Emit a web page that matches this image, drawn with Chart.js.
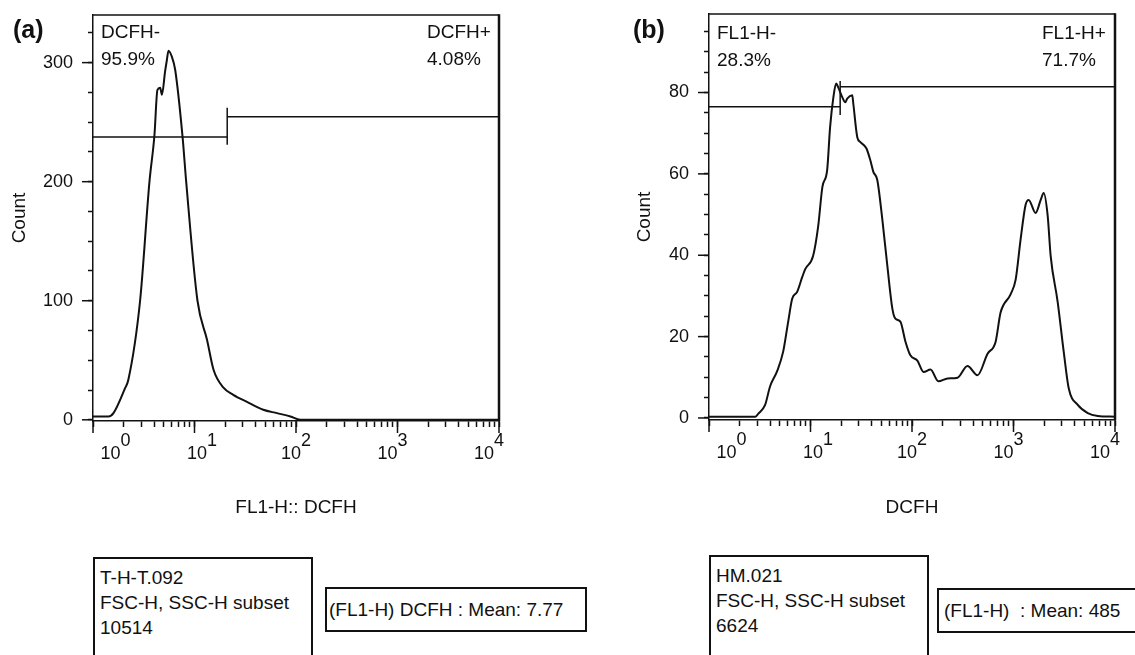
<!DOCTYPE html>
<html><head><meta charset="utf-8">
<script src="https://cdn.jsdelivr.net/npm/chart.js@4/dist/chart.umd.min.js"></script>
<style>
html,body{margin:0;padding:0;background:#fff;}
#wrap{position:relative;width:1135px;height:655px;overflow:hidden;font-family:"Liberation Sans",Arial,sans-serif;color:#111;background:#fff;}
canvas{position:absolute;top:0;}
.t{position:absolute;font-size:19px;line-height:27px;white-space:pre;}
.lab{position:absolute;font-weight:bold;font-size:25px;line-height:25px;color:#111;}
.box{position:absolute;border:2px solid #111;box-sizing:border-box;font-size:19px;white-space:pre;background:#fff;}
</style></head>
<body><div id="wrap">
<canvas id="ca" width="567" height="655" style="left:0"></canvas>
<canvas id="cb" width="568" height="655" style="left:567px"></canvas>
<div class="lab" style="left:13px;top:17px">(a)</div>
<div class="lab" style="left:633px;top:17px">(b)</div>
<div class="t" style="left:101px;top:18px">DCFH-
95.9%</div>
<div class="t" style="left:427px;top:18px">DCFH+
4.08%</div>
<div class="t" style="left:717px;top:19px">FL1-H-
28.3%</div>
<div class="t" style="left:1042px;top:19px">FL1-H+
71.7%</div>
<div class="box" style="left:93px;top:557px;width:220px;height:120px;padding:6px 0 0 5px;line-height:25px">T-H-T.092
FSC-H, SSC-H subset
10514</div>
<div class="box" style="left:325px;top:587px;width:262px;height:45px;padding-left:2px;line-height:41px">(FL1-H) DCFH : Mean: 7.77</div>
<div class="box" style="left:709px;top:555px;width:220px;height:120px;padding:6px 0 0 5px;line-height:25px">HM.021
FSC-H, SSC-H subset
6624</div>
<div class="box" style="left:937px;top:588px;width:220px;height:45px;padding-left:5px;line-height:41px">(FL1-H)  : Mean: 485</div>
</div>
<script>
// ---------- data ----------
const aIntensity = [1, 1.42, 1.59, 2.07, 2.23, 2.91, 3.60, 4.03, 4.31, 4.59, 4.77, 5.14, 5.34, 5.54, 5.98, 6.45, 7.62, 8.28, 10.7, 13.3, 15.4, 19.3, 24.1, 32.9, 47.6, 65.0, 88.1, 110, 10000];
const aCount = [2.8, 2.8, 5.6, 26.6, 33.6, 100, 200, 239, 277, 279, 273, 293, 302, 310, 305, 294, 238, 200, 100, 67, 42, 27, 21, 15, 8.4, 5.6, 2.8, 0, 0];

const bIntensity = [1, 2.85, 3.05, 3.57, 4.00, 4.69, 5.38, 6.03, 6.60, 7.39, 8.28, 8.87, 10.6, 11.9, 13.1, 14.6, 15.6, 16.8, 17.9, 18.8, 20.6, 22.0, 23.0, 25.8, 26.4, 28.9, 31.0, 35.5, 38.8, 41.6, 45.5, 51.0, 57.2, 64.1, 68.6, 76.8, 86.1, 96.4, 113, 130, 152, 182, 224, 281, 352, 442, 555, 666, 746, 936, 1050, 1175, 1316, 1410, 1652, 1853, 1983, 2172, 2324, 2725, 3124, 3500, 4295, 5395, 6761, 10000];
const bCount = [0.3, 0.3, 1, 3.2, 7.8, 11.5, 16.3, 23.7, 29.3, 31, 34.6, 36.6, 39.8, 47.1, 56.8, 61, 71.5, 78.8, 82.2, 81.2, 78.8, 77.6, 78.5, 79.3, 77.3, 69, 67.8, 66.3, 63.4, 60.5, 58.5, 48.8, 37.3, 26.8, 24.4, 23.7, 18.8, 15.4, 14.1, 11.3, 11.9, 9, 9.7, 9.9, 12.8, 10.5, 15.8, 18.7, 25.9, 30.4, 34, 43.9, 52.4, 53.6, 50.4, 53.6, 55.3, 49.7, 39.8, 28.5, 16.3, 7.3, 3.2, 1.2, 0.5, 0.3];

// gates: [start, split, end] on x; [left level, right level]; marker bar [low, high]
const aGateX = [1, 21, 10000];
const aGateY = [237.6, 254.5];
const aGateBar = [231, 262];
const bGateX = [1, 19.6, 10000];
const bGateY = [76.5, 81.4];
const bGateBar = [74.5, 82.8];

// ticks
const xDecades = [1, 10, 100, 1000, 10000];
const xExponents = ['0', '1', '2', '3', '4'];
const xMinorSteps = [2, 3, 4, 5, 6, 7, 8, 9];
const aYTicks = [0, 25, 50, 75, 100, 125, 150, 175, 200, 225, 250, 275, 300, 325];
const aYLabels = [0, 100, 200, 300];
const bYTicks = [0, 5, 10, 15, 20, 25, 30, 35, 40, 45, 50, 55, 60, 65, 70, 75, 80, 85, 90, 95];
const bYLabels = [0, 20, 40, 60, 80];

const aTitles = {x: 'FL1-H:: DCFH', y: 'Count'};
const bTitles = {x: 'DCFH', y: 'Count'};

// ---------- helpers ----------
const xTickValues = [];
xDecades.forEach((d, i) => {
  xTickValues.push(d);
  if (i < xDecades.length - 1) xMinorSteps.forEach(m => xTickValues.push(d * m));
});
// label shift (in space widths) for base "10" and superscript line
const xLabelShift = [[7, 13], [1, 7], [-2, 4], [-4, 2], [-6, 0]];
function pad(txt, n) { return n > 0 ? ' '.repeat(n) + txt : txt + ' '.repeat(-n); }
function xLabel(v) {
  const k = xDecades.indexOf(v);
  if (k < 0) return '';
  const [s10, sSup] = xLabelShift[k];
  return [pad(xExponents[k], sSup), pad('10', s10)];
}
function noPad(s) { s.paddingLeft = 0; s.paddingRight = 0; s.paddingTop = 0; s.paddingBottom = 0; }
const INK = '#111';
const FONT = '"Liberation Sans", Arial, sans-serif';

const framePlugin = {
  id: 'frame',
  afterDraw(chart, args, opts) {
    const {ctx, chartArea: {left, top, right, bottom}, scales: {x, y}} = chart;
    ctx.save();
    ctx.strokeStyle = INK;
    ctx.lineWidth = 1.5;
    ctx.beginPath(); ctx.moveTo(left, top); ctx.lineTo(right, top); ctx.stroke();
    ctx.lineWidth = 2.5;
    ctx.beginPath(); ctx.moveTo(right, top - 0.75); ctx.lineTo(right, bottom); ctx.stroke();
    ctx.lineWidth = 1.5;
    x.ticks.forEach(t => {
      if (xDecades.includes(t.value)) {
        const px = x.getPixelForValue(t.value);
        ctx.beginPath(); ctx.moveTo(px, bottom); ctx.lineTo(px, bottom + 12); ctx.stroke();
      }
    });
    y.ticks.forEach(t => {
      if (opts.yLabels.includes(t.value)) {
        const py = y.getPixelForValue(t.value);
        ctx.beginPath(); ctx.moveTo(left - 11, py); ctx.lineTo(left, py); ctx.stroke();
      }
    });
    ctx.restore();
  }
};

function makeChart(id, cfg) {
  const pts = cfg.xs.map((v, i) => ({x: v, y: cfg.ys[i]}));
  const gl = cfg.gateX, gy = cfg.gateY, gb = cfg.gateBar;
  const gateStyle = {borderColor: INK, borderWidth: 1.5, pointRadius: 0, fill: false, tension: 0};
  return new Chart(document.getElementById(id), {
    type: 'line',
    data: {
      datasets: [
        {data: pts, borderColor: INK, borderWidth: 2, pointRadius: 0, fill: false, cubicInterpolationMode: 'monotone'},
        Object.assign({data: [{x: gl[0], y: gy[0]}, {x: gl[1], y: gy[0]}]}, gateStyle),
        Object.assign({data: [{x: gl[1], y: gy[1]}, {x: gl[2], y: gy[1]}]}, gateStyle),
        Object.assign({data: [{x: gl[1], y: gb[0]}, {x: gl[1], y: gb[1]}]}, gateStyle)
      ]
    },
    options: {
      responsive: false,
      animation: false,
      events: [],
      layout: {padding: {left: 0, top: cfg.padTop, right: cfg.padRight, bottom: 0}},
      plugins: {legend: {display: false}, tooltip: {enabled: false}, frame: {yLabels: cfg.yLabels}},
      scales: {
        x: {
          type: 'logarithmic', min: 1, max: 10000,
          afterBuildTicks: s => { s.ticks = xTickValues.map(v => ({value: v, major: xDecades.includes(v)})); },
          afterFit: s => { s.height = cfg.xHeight; noPad(s); },
          border: {display: true, color: INK, width: 1.5},
          grid: {display: true, drawOnChartArea: false, drawTicks: true, tickLength: 6, tickColor: INK, tickWidth: 1.5},
          ticks: {autoSkip: false, maxRotation: 0, minRotation: 0, padding: 8, color: INK,
                  font: {family: FONT, size: 18, lineHeight: 13 / 18},
                  callback: v => xLabel(v)},
          title: {display: true, text: cfg.titles.x, color: INK, font: {family: FONT, size: 19}, padding: {top: 0, bottom: 136}}
        },
        y: {
          type: 'linear', min: cfg.yMin, max: cfg.yMax,
          afterBuildTicks: s => { s.ticks = cfg.yTicks.map(v => ({value: v})); },
          afterFit: s => { s.width = cfg.yWidth; noPad(s); },
          border: {display: true, color: INK, width: 1.5},
          grid: {display: true, drawOnChartArea: false, drawTicks: true, tickLength: 5, tickColor: INK, tickWidth: 1.5},
          ticks: {autoSkip: false, padding: 15, color: INK, font: {family: FONT, size: 18},
                  callback: v => cfg.yLabels.includes(v) ? String(v) : ''},
          title: {display: true, text: cfg.titles.y, color: INK, font: {family: FONT, size: 19}, padding: {top: cfg.yTitlePad, bottom: 0}}
        }
      }
    },
    plugins: [framePlugin]
  });
}

makeChart('ca', {
  xs: aIntensity, ys: aCount, gateX: aGateX, gateY: aGateY, gateBar: aGateBar,
  yTicks: aYTicks, yLabels: aYLabels, yMin: -1, yMax: 340, titles: aTitles,
  padTop: 15, padRight: 68, xHeight: 234, yWidth: 93, yTitlePad: 8.6
});
makeChart('cb', {
  xs: bIntensity, ys: bCount, gateX: bGateX, gateY: bGateY, gateBar: bGateBar,
  yTicks: bYTicks, yLabels: bYLabels, yMin: -0.5, yMax: 99.3, titles: bTitles,
  padTop: 14, padRight: 20, xHeight: 235, yWidth: 142, yTitlePad: 66.6
});
</script>
</body></html>
